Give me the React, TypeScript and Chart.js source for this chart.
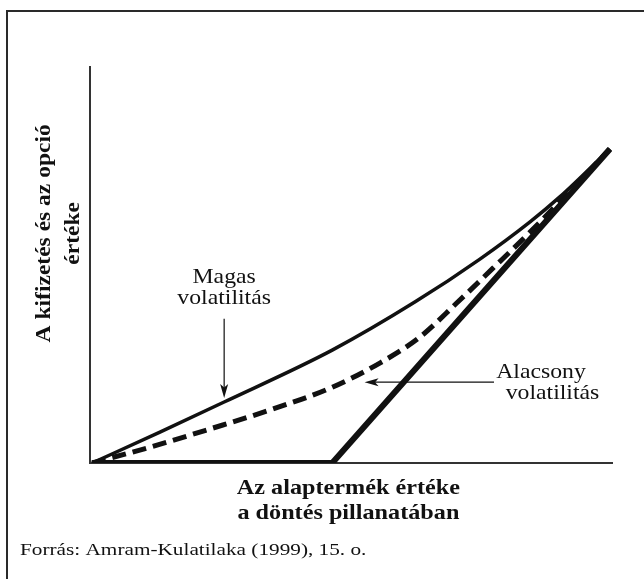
import React, { useEffect, useRef } from "react";
import { Chart, registerables } from "chart.js";

Chart.register(...registerables);

// ---- data (values in abstract units: x 0..100, y 0..100) ----
const payoffX = [0.4, 46.4, 99.6];
const payoffY = [0, 0, 79.3];
const highVolX = [0.4, 13.4, 25.7, 46.4, 62.3, 74.7, 84.3, 90.0, 99.6];
const highVolY = [0, 7.8, 15.4, 28.5, 40.7, 51.5, 60.9, 67.2, 79.3];
const lowVolX = [0.4, 11.5, 23.0, 34.5, 46.0, 55.6, 63.2, 70.1, 77.2, 84.3, 91.0, 99.6];
const lowVolY = [0, 4.0, 8.6, 13.4, 18.9, 25.3, 31.8, 40.2, 49.2, 58.3, 67.4, 79.3];

const yTitleLines = ["A kifizetés és az opció", "értéke"];
const xTitleLines = ["Az alaptermék értéke", "a döntés pillanatában"];
const highLabelLines = ["Magas", "volatilitás"];
const lowLabelLines = ["Alacsony", "volatilitás"];
const sourceText = "Forrás: Amram-Kulatilaka (1999), 15. o.";

const toPts = (xs: number[], ys: number[]) => xs.map((x, i) => ({ x, y: ys[i] }));

const INK = "#111111";
const SERIF = "'Liberation Serif', 'Times New Roman', serif";

// annotation placement (in data units of the chart scales)
const annot = {
  high: { x: 25.7, lines: [46.9, 41.6], arrowFrom: 36.4, arrowTo: 16.4 },
  low: { x: [86.4, 88.6], lines: [22.8, 17.5], arrowY: 20.4, arrowFrom: 77.4, arrowTo: 52.6 },
};

function arrowHead(ctx: CanvasRenderingContext2D, x: number, y: number, ang: number) {
  const len = 14, half = 4;
  ctx.save();
  ctx.translate(x, y);
  ctx.rotate(ang);
  ctx.beginPath();
  ctx.moveTo(0, 0);
  ctx.lineTo(-len, -half);
  ctx.lineTo(-len * 0.75, 0);
  ctx.lineTo(-len, half);
  ctx.closePath();
  ctx.fill();
  ctx.restore();
}

function text(ctx: CanvasRenderingContext2D, s: string, x: number, y: number, sx: number, rot = 0) {
  ctx.save();
  ctx.translate(x, y);
  if (rot) ctx.rotate(rot);
  ctx.scale(sx, 1);
  ctx.fillText(s, 0, 0);
  ctx.restore();
}

const decorPlugin = {
  id: "decor",
  afterDraw(chart: any) {
    const { ctx } = chart;
    const xs = chart.scales.x;
    const ys = chart.scales.y;
    const W = chart.width;
    const H = chart.height;
    ctx.save();
    // frame (left + top)
    ctx.strokeStyle = "#2a2a2a";
    ctx.lineWidth = 2;
    ctx.beginPath();
    ctx.moveTo(7, H);
    ctx.lineTo(7, 11);
    ctx.lineTo(W, 11);
    ctx.stroke();

    ctx.fillStyle = INK;
    ctx.strokeStyle = INK;
    ctx.textAlign = "center";
    ctx.textBaseline = "middle";

    // y title (rotated)
    ctx.font = `bold 21px ${SERIF}`;
    const yc = ys.getPixelForValue(58);
    text(ctx, yTitleLines[0], 45, yc, 1.12, -Math.PI / 2);
    text(ctx, yTitleLines[1], 74, yc, 1.12, -Math.PI / 2);

    // x title
    ctx.font = `bold 22px ${SERIF}`;
    const xc = xs.getPixelForValue(49.5);
    text(ctx, xTitleLines[0], xc, chart.chartArea.bottom + 25, 1.1);
    text(ctx, xTitleLines[1], xc, chart.chartArea.bottom + 50, 1.1);

    // Magas volatilitás
    ctx.font = `21px ${SERIF}`;
    const hx = xs.getPixelForValue(annot.high.x);
    text(ctx, highLabelLines[0], hx, ys.getPixelForValue(annot.high.lines[0]), 1.13);
    text(ctx, highLabelLines[1], hx, ys.getPixelForValue(annot.high.lines[1]), 1.13);
    ctx.lineWidth = 1.2;
    const ha = ys.getPixelForValue(annot.high.arrowFrom);
    const hb = ys.getPixelForValue(annot.high.arrowTo);
    ctx.beginPath();
    ctx.moveTo(hx, ha);
    ctx.lineTo(hx, hb - 8);
    ctx.stroke();
    arrowHead(ctx, hx, hb, Math.PI / 2);

    // Alacsony volatilitás
    text(ctx, lowLabelLines[0], xs.getPixelForValue(annot.low.x[0]), ys.getPixelForValue(annot.low.lines[0]), 1.13);
    text(ctx, lowLabelLines[1], xs.getPixelForValue(annot.low.x[1]), ys.getPixelForValue(annot.low.lines[1]), 1.13);
    const ly = ys.getPixelForValue(annot.low.arrowY);
    const la = xs.getPixelForValue(annot.low.arrowFrom);
    const lb = xs.getPixelForValue(annot.low.arrowTo);
    ctx.beginPath();
    ctx.moveTo(la, ly);
    ctx.lineTo(lb + 8, ly);
    ctx.stroke();
    arrowHead(ctx, lb, ly, Math.PI);

    // source
    ctx.textAlign = "left";
    ctx.font = `17px ${SERIF}`;
    text(ctx, sourceText, 20, 551, 1.25);
    ctx.restore();
  },
};

export default function App() {
  const ref = useRef<HTMLCanvasElement | null>(null);
  useEffect(() => {
    if (!ref.current) return;
    const chart = new Chart(ref.current, {
      type: "line",
      data: {
        datasets: [
          {
            label: "Kifizetés",
            data: toPts(payoffX, payoffY),
            borderColor: INK,
            borderWidth: 6,
            pointRadius: 0,
            tension: 0,
            borderJoinStyle: "miter",
          },
          {
            label: "Magas volatilitás",
            data: toPts(highVolX, highVolY),
            borderColor: INK,
            borderWidth: 3.5,
            pointRadius: 0,
            cubicInterpolationMode: "monotone",
          },
          {
            label: "Alacsony volatilitás",
            data: toPts(lowVolX, lowVolY),
            borderColor: INK,
            borderWidth: 5,
            borderDash: [14, 7],
            pointRadius: 0,
            cubicInterpolationMode: "monotone",
          },
        ],
      },
      options: {
        responsive: false,
        animation: false,
        layout: { padding: { left: 90, top: 67, right: 32, bottom: 116 } },
        plugins: { legend: { display: false }, tooltip: { enabled: false }, title: { display: false } },
        scales: {
          x: {
            type: "linear",
            min: 0,
            max: 100,
            grid: { display: false, drawTicks: false },
            ticks: { display: false },
            border: { display: true, color: "#333", width: 2 },
            afterFit: (s: any) => { s.height = 0; },
          },
          y: {
            type: "linear",
            min: 0,
            max: 100,
            grid: { display: false, drawTicks: false },
            ticks: { display: false },
            border: { display: true, color: "#333", width: 2 },
            afterFit: (s: any) => { s.width = 0; },
          },
        },
      },
      plugins: [decorPlugin],
    } as any);
    return () => chart.destroy();
  }, []);
  return (
    <div style={{ position: "absolute", left: 0, top: 0, width: 644, height: 579, background: "#fff" }}>
      <canvas ref={ref} width={644} height={579} style={{ display: "block" }} />
    </div>
  );
}
